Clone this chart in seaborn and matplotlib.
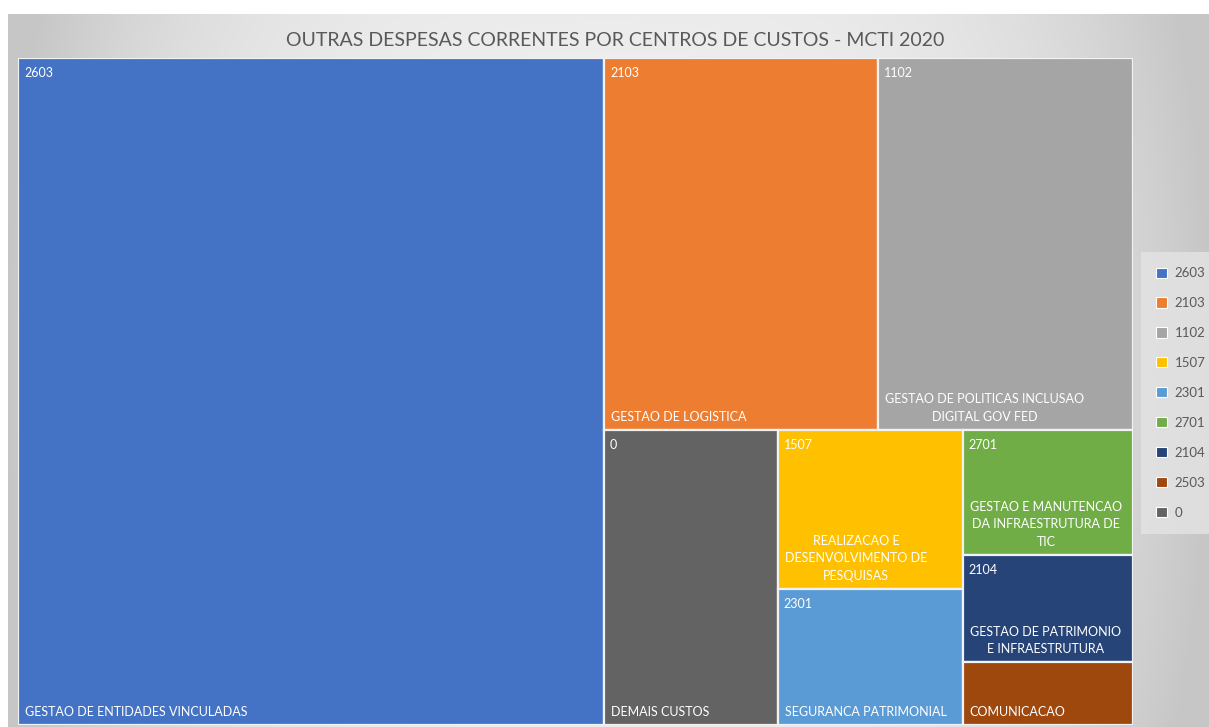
import numpy as np
import matplotlib
matplotlib.use("Agg")
import matplotlib.pyplot as plt
import seaborn as sns
from matplotlib.patches import Rectangle, Patch

# cost centre codes, names and values (relative, read from rectangle areas)
codes = ["2603", "2103", "1102", "0", "1507", "2301", "2701", "2104", "2503"]
names = [
    "GESTAO DE ENTIDADES VINCULADAS",
    "GESTAO DE LOGISTICA",
    "GESTAO DE POLITICAS INCLUSAO\nDIGITAL GOV FED",
    "DEMAIS CUSTOS",
    "REALIZACAO E\nDESENVOLVIMENTO DE\nPESQUISAS",
    "SEGURANCA PATRIMONIAL",
    "GESTAO E MANUTENCAO\nDA INFRAESTRUTURA DE\nTIC",
    "GESTAO DE PATRIMONIO\nE INFRAESTRUTURA",
    "COMUNICACAO",
]
values = [390.9, 101.9, 94.9, 51.3, 29.4, 25.2, 21.2, 18.3, 10.7]
colors = ["#4472C4", "#ED7D31", "#A5A5A5", "#636363", "#FFC000",
          "#5B9BD5", "#70AD47", "#264478", "#9E480E"]
legend_order = ["2603", "2103", "1102", "1507", "2301", "2701", "2104", "2503", "0"]

sns.set_theme(style="white")
plt.rcParams["font.family"] = ["Lato", "DejaVu Sans"]


def worst(row, side):
    s = sum(row)
    return max(max(side * side * r / (s * s), s * s / (side * side * r)) for r in row)


def squarify(vals, x, y, w, h):
    total = sum(vals)
    vals = [v * w * h / total for v in vals]
    rects = []
    i = 0
    while i < len(vals):
        side = min(w, h)
        row = [vals[i]]
        j = i + 1
        while j < len(vals) and worst(row + [vals[j]], side) <= worst(row, side):
            row.append(vals[j])
            j += 1
        s = sum(row)
        if w >= h:
            cw = s / h
            yy = y
            for r in row:
                rects.append((x, yy, cw, r / cw))
                yy += r / cw
            x += cw
            w -= cw
        else:
            rh = s / w
            xx = x
            for r in row:
                rects.append((xx, y, r / rh, rh))
                xx += r / rh
            y += rh
            h -= rh
        i = j
    return rects


W, H = 1115, 667
rects = squarify(values, 0, 0, W, H)

fig = plt.figure(figsize=(12.09, 7.27), dpi=100)
fig.patch.set_facecolor("white")

# gradient background panel
bg = fig.add_axes([8 / 1209, 0, 1 - 8 / 1209, 713 / 727])
xs = np.linspace(-1, 1, 400)
ys = np.linspace(-1, 1, 200)
dx, dy = np.meshgrid(xs, ys)
g = 0.78 + 0.17 * (1 - np.clip(np.abs(dx) ** 3 + 0.15 * np.abs(dy) ** 2, 0, 1))
bg.imshow(np.dstack([g, g, g]), aspect="auto", extent=[0, 1, 0, 1])
bg.set_axis_off()

ax = fig.add_axes([18 / 1209, 2 / 727, W / 1209, H / 727])
ax.set_xlim(0, W)
ax.set_ylim(H, 0)
ax.set_axis_off()

for (x, y, w, h), code, name, col in zip(rects, codes, names, colors):
    ax.add_patch(Rectangle((x, y), w, h, facecolor=col, edgecolor="#f2f2f2", lw=1.6))
    if h > 80:
        ax.text(x + 6, y + 9, code, color="white", fontsize=9, ha="left", va="top")
    ax.text(x + 7, y + h - 7, name, color="white", fontsize=9, ha="left", va="bottom",
            multialignment="center", linespacing=1.55)

fig.text(615 / 1209, 1 - 40 / 727, "OUTRAS DESPESAS CORRENTES POR CENTROS DE CUSTOS - MCTI 2020",
         ha="center", va="center", fontsize=14, color="#595959")

handles = [Patch(facecolor=colors[codes.index(c)], edgecolor="white", lw=0.8) for c in legend_order]
leg = fig.legend(handles, legend_order, loc="upper left", bbox_to_anchor=(1141 / 1209, 1 - 252 / 727),
                 frameon=True, fontsize=9.5, labelspacing=1.36, handlelength=0.8, handleheight=0.8,
                 handletextpad=0.6, borderpad=1.15, borderaxespad=0, labelcolor="#595959")
leg.get_frame().set_facecolor("#e4e4e4")
leg.get_frame().set_edgecolor("none")
leg.get_frame().set_boxstyle("square", pad=0)

fig.savefig("out.png", dpi=100)
